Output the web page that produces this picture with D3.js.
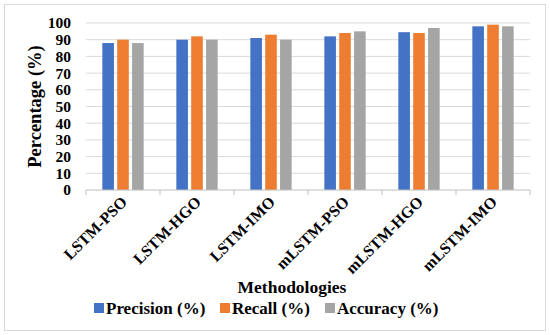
<!DOCTYPE html>
<html>
<head>
<meta charset="utf-8">
<script src="https://cdn.jsdelivr.net/npm/d3@7"></script>
<style>
  body { margin: 0; background: #fff; }
  text { font-family: "Liberation Serif", "Times New Roman", serif; font-weight: bold; }
</style>
</head>
<body>
<div id="chart"></div>
<script>
// data
const methods = ["LSTM-PSO", "LSTM-HGO", "LSTM-IMO", "mLSTM-PSO", "mLSTM-HGO", "mLSTM-IMO"];
const seriesNames = ["Precision (%)", "Recall (%)", "Accuracy (%)"];
const precision = [88, 90, 91, 92, 94.5, 98];
const recall = [90, 92, 93, 94, 94, 99];
const accuracy = [88, 90, 90, 95, 97, 98];
const yTicks = [0, 10, 20, 30, 40, 50, 60, 70, 80, 90, 100];
const colors = ["#4472C4", "#ED7D31", "#A5A5A5"];

const W = 550, H = 335;
const margin = { top: 23, right: 20, bottom: 145, left: 86 };
const width = W - margin.left - margin.right,
    height = H - margin.top - margin.bottom;

const svg = d3.select("#chart").append("svg")
    .attr("width", W)
    .attr("height", H);

// outer frame
svg.append("rect")
    .attr("x", 4.5).attr("y", 4.5)
    .attr("width", 541).attr("height", 326)
    .attr("fill", "#fff")
    .attr("stroke", "#d9d9d9");

const g = svg.append("g")
    .attr("transform", `translate(${margin.left}, ${margin.top})`);

const x = d3.scaleBand()
    .domain(methods)
    .range([0, width]);

const x1 = d3.scaleBand()
    .domain(seriesNames)
    .range([0, x.bandwidth()])
    .paddingInner(0.22)
    .paddingOuter(1.1);

const y = d3.scaleLinear()
    .domain([0, 100])
    .range([height, 0]);

// gridlines
g.selectAll("line.grid")
    .data(yTicks.slice(1))
    .join("line")
    .attr("class", "grid")
    .attr("x1", 0).attr("x2", width)
    .attr("y1", d => y(d)).attr("y2", d => y(d))
    .attr("stroke", "#d9d9d9");

// y labels
g.selectAll("text.ylab")
    .data(yTicks)
    .join("text")
    .attr("class", "ylab")
    .attr("x", -15)
    .attr("y", d => y(d))
    .attr("dy", "0.35em")
    .attr("text-anchor", "end")
    .style("font-size", "15.5px")
    .text(d => d);

// bars
const values = [precision, recall, accuracy];
const rows = methods.map((m, i) => ({
    method: m,
    vals: seriesNames.map((s, j) => ({ key: s, value: values[j][i], color: colors[j] }))
}));

g.selectAll("g.group")
    .data(rows)
    .join("g")
    .attr("class", "group")
    .attr("transform", d => `translate(${x(d.method)}, 0)`)
    .selectAll("rect")
    .data(d => d.vals)
    .join("rect")
    .attr("x", d => x1(d.key))
    .attr("width", x1.bandwidth())
    .attr("y", d => y(d.value))
    .attr("height", d => height - y(d.value))
    .attr("fill", d => d.color);

// x axis line and ticks
const xAxis = g.append("g")
    .attr("transform", `translate(0, ${height})`);
xAxis.append("line")
    .attr("x1", 0).attr("x2", width)
    .attr("stroke", "#bfbfbf");
xAxis.selectAll("line.tick")
    .data(d3.range(methods.length + 1))
    .join("line")
    .attr("class", "tick")
    .attr("x1", i => i * x.step()).attr("x2", i => i * x.step())
    .attr("y1", 0).attr("y2", 5)
    .attr("stroke", "#bfbfbf");

// category labels, rotated
xAxis.selectAll("text")
    .data(methods)
    .join("text")
    .attr("text-anchor", "end")
    .attr("transform", d => `translate(${x(d) + x.bandwidth() / 2 + 5}, 13) rotate(-45)`)
    .style("font-size", "16px")
    .text(d => d);

// axis titles
svg.append("text")
    .attr("text-anchor", "middle")
    .attr("transform", `translate(41, ${margin.top + height / 2}) rotate(-90)`)
    .style("font-size", "18.5px")
    .text("Percentage (%)");

svg.append("text")
    .attr("text-anchor", "middle")
    .attr("x", 292)
    .attr("y", 293)
    .style("font-size", "17.5px")
    .text("Methodologies");

// legend
const legendX = [94, 220, 325];
const leg = svg.selectAll("g.leg")
    .data(seriesNames)
    .join("g")
    .attr("class", "leg")
    .attr("transform", (d, i) => `translate(${legendX[i]}, 308)`);
leg.append("rect")
    .attr("x", 0).attr("y", -5)
    .attr("width", 10).attr("height", 10)
    .attr("fill", (d, i) => colors[i]);
leg.append("text")
    .attr("x", 12)
    .attr("dy", "0.35em")
    .style("font-size", "17px")
    .text(d => d);
</script>
</body>
</html>
